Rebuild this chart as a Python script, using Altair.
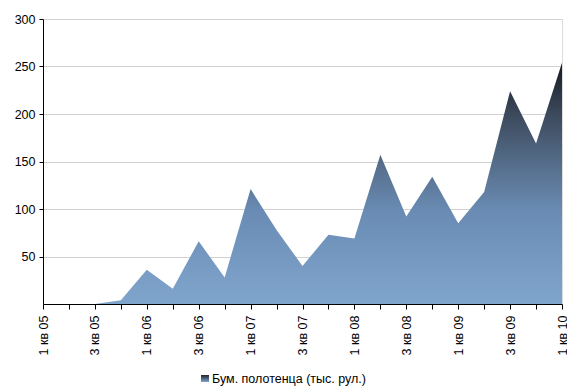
import json
import altair as alt
import pandas as pd

quarters = [
    "1 кв 05", "2 кв 05", "3 кв 05", "4 кв 05",
    "1 кв 06", "2 кв 06", "3 кв 06", "4 кв 06",
    "1 кв 07", "2 кв 07", "3 кв 07", "4 кв 07",
    "1 кв 08", "2 кв 08", "3 кв 08", "4 кв 08",
    "1 кв 09", "2 кв 09", "3 кв 09", "4 кв 09",
    "1 кв 10",
]
values = [0, 0, 0, 4, 36, 16, 66, 28, 121, 78, 40, 73, 69, 157, 92, 134, 85, 118, 224, 169, 254]
y_ticks = [50, 100, 150, 200, 250, 300]
series_name = "Бум. полотенца (тыс. рул.)"

df = pd.DataFrame({"idx": list(range(len(quarters))), "q": quarters, "v": values})

gradient = alt.Gradient(
    gradient="linear",
    stops=[
        alt.GradientStop(color="#161a21", offset=0),
        alt.GradientStop(color="#3a4759", offset=0.2),
        alt.GradientStop(color="#536a86", offset=0.4),
        alt.GradientStop(color="#6a8cb4", offset=0.62),
        alt.GradientStop(color="#80a5cd", offset=1),
    ],
    x1=1, x2=1, y1=0, y2=1,
)

label_expr = "datum.value % 2 == 0 ? " + json.dumps(quarters, ensure_ascii=False) + "[datum.value] : ''"

area = alt.Chart(df).mark_area(color=gradient, interpolate="linear").encode(
    x=alt.X(
        "idx:Q",
        scale=alt.Scale(domain=[0, len(quarters) - 1], nice=False, zero=False),
        axis=alt.Axis(
            values=list(range(len(quarters))),
            labelExpr=label_expr,
            labelAngle=-90,
            labelAlign="right",
            labelBaseline="middle",
            labelPadding=6,
            tickSize=5,
            tickColor="#000",
            domainColor="#000",
            grid=False,
            title=None,
            labelFont="Liberation Sans",
            labelFontSize=12.5,
            labelColor="#000",
            labelOverlap=False,
        ),
    ),
    y=alt.Y(
        "v:Q",
        scale=alt.Scale(domain=[0, 300], nice=False),
        axis=alt.Axis(
            values=y_ticks,
            tickSize=4,
            tickColor="#000",
            domainColor="#000",
            labelPadding=4,
            grid=True,
            gridColor="#d2d2d2",
            gridWidth=1.2,
            title=None,
            labelFont="Liberation Sans",
            labelFontSize=12.5,
            labelColor="#000",
        ),
    ),
)

leg_df = pd.DataFrame({"label": [series_name]})
leg_grad = alt.Gradient(
    gradient="linear",
    stops=[
        alt.GradientStop(color="#1e2430", offset=0),
        alt.GradientStop(color="#80a5cd", offset=1),
    ],
    x1=1, x2=1, y1=0, y2=1,
)
leg_box = alt.Chart(leg_df).mark_rect(color=leg_grad).encode(
    x=alt.value(158), x2=alt.value(166), y=alt.value(356), y2=alt.value(363)
)
leg_text = alt.Chart(leg_df).mark_text(
    align="left", baseline="middle", font="Liberation Sans", fontSize=12.5, color="#000"
).encode(text="label:N", x=alt.value(169), y=alt.value(360))

chart = alt.layer(area, leg_box, leg_text).properties(
    width=519,
    height=285,
    autosize=alt.AutoSizeParams(type="none"),
    padding={"left": 43, "top": 19, "right": 5, "bottom": 85},
).configure_view(stroke=None).configure(background="white")

chart.save("out.html", embed_options={"renderer": "svg", "actions": False})
